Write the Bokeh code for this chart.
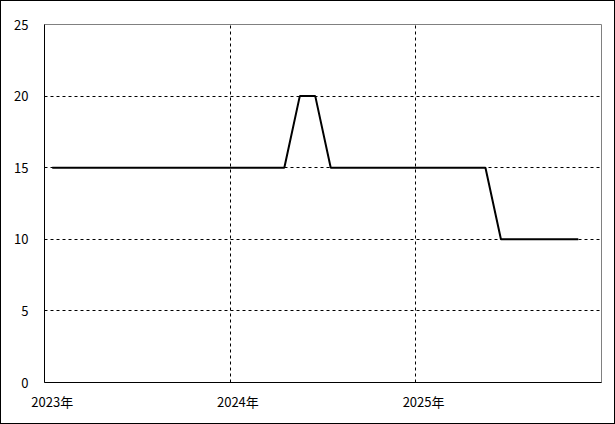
from bokeh.plotting import figure
from bokeh.models import Range1d, FixedTicker
from bokeh.embed import file_html
from bokeh.resources import INLINE

# Monthly values, Jan 2023 onward (36 month slots on the axis, Dec 2025 has no value)
values = [15, 15, 15, 15, 15, 15, 15, 15, 15, 15, 15, 15,
          15, 15, 15, 15, 20, 20, 15, 15, 15, 15, 15, 15,
          15, 15, 15, 15, 15, 10, 10, 10, 10, 10, 10]
n_slots = 36
year_labels = ["2023年", "2024年", "2025年"]
year_start_slots = [0, 12, 24]
y_ticks = [0, 5, 10, 15, 20, 25]

x = [i + 0.5 for i in range(len(values))]

p = figure(width=615, height=424, output_backend="svg", toolbar_location=None,
           x_range=Range1d(0, n_slots), y_range=Range1d(0, 25),
           min_border_left=43, min_border_top=23, min_border_right=15,
           min_border_bottom=43)
p.styles = {"border": "1px solid black"}

p.line(x, values, line_color="black", line_width=2)

font = "Noto Sans CJK JP"

# x axis: one label at each January, grid at year boundaries
p.xaxis.ticker = FixedTicker(ticks=[s + 0.5 for s in year_start_slots])
p.xaxis.major_label_overrides = {s + 0.5: lab for s, lab in zip(year_start_slots, year_labels)}
p.xgrid.ticker = FixedTicker(ticks=year_start_slots[1:])

p.yaxis.ticker = FixedTicker(ticks=y_ticks)
p.ygrid.ticker = FixedTicker(ticks=y_ticks[1:-1])

for ax in (p.xaxis[0], p.yaxis[0]):
    ax.axis_line_color = "black"
    ax.axis_line_width = 1
    ax.major_tick_line_color = None
    ax.minor_tick_line_color = None
    ax.major_label_text_font = font
    ax.major_label_text_font_size = "13px"
    ax.major_label_text_color = "black"
p.xaxis.major_label_standoff = 3
p.yaxis.major_label_standoff = 10

for g in (p.xgrid[0], p.ygrid[0]):
    g.grid_line_color = "black"
    g.grid_line_dash = "3 3"
    g.grid_line_width = 1

p.outline_line_color = "#808080"
p.outline_line_width = 1
p.background_fill_color = "white"
p.border_fill_color = "white"

open("out.html", "w").write(file_html(p, INLINE))
